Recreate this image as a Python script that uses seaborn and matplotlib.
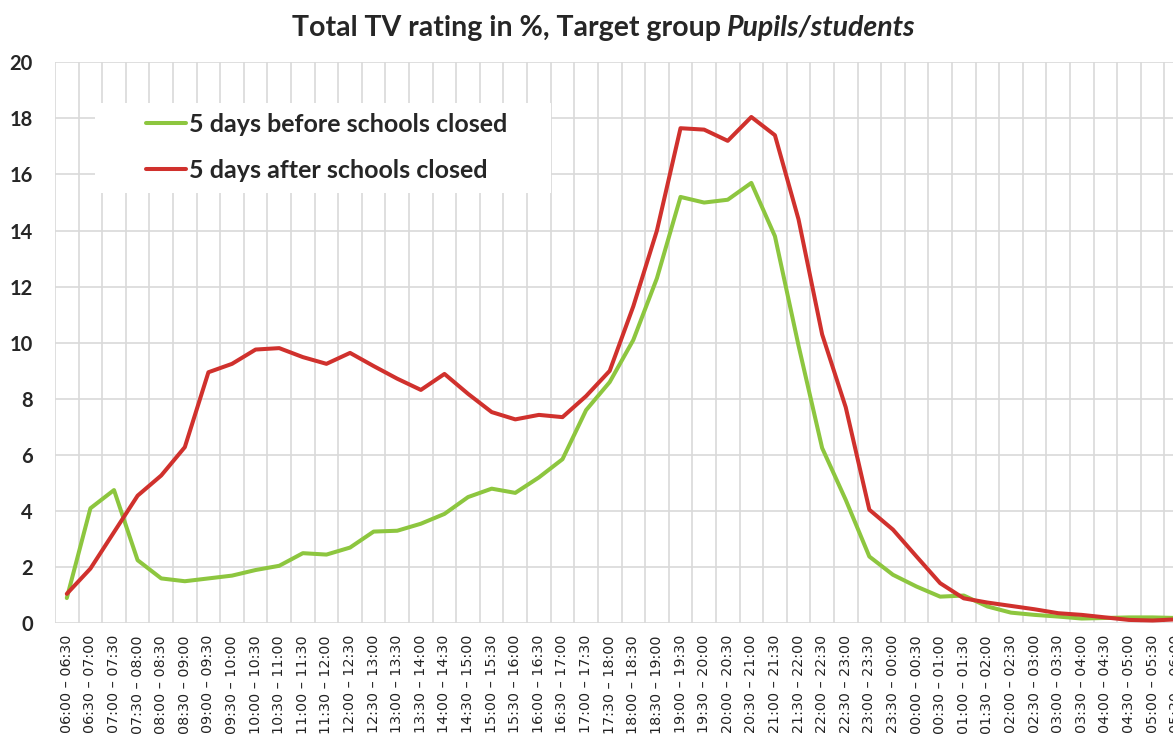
import pandas as pd
import matplotlib
matplotlib.use("Agg")
import matplotlib.pyplot as plt
from matplotlib.patches import Rectangle
import seaborn as sns

# half-hour slots from 06:00 to 06:00 next day
times = [f"{(6 + i // 2) % 24:02d}:{30 * (i % 2):02d}" for i in range(49)]
slots = [f"{times[i]} – {times[i + 1]}" for i in range(48)]

before = [0.9, 4.1, 4.75, 2.25, 1.6, 1.5, 1.6, 1.7, 1.9, 2.05,
          2.5, 2.45, 2.7, 3.27, 3.3, 3.55, 3.9, 4.5, 4.8, 4.65,
          5.2, 5.85, 7.6, 8.6, 10.1, 12.3, 15.2, 15.0, 15.1, 15.7,
          13.8, 9.9, 6.25, 4.4, 2.38, 1.73, 1.31, 0.95, 0.99, 0.6,
          0.38, 0.3, 0.24, 0.17, 0.19, 0.21, 0.21, 0.19]
after = [1.05, 1.95, 3.25, 4.55, 5.27, 6.28, 8.95, 9.25, 9.76, 9.81,
         9.49, 9.25, 9.64, 9.17, 8.72, 8.32, 8.89, 8.18, 7.53, 7.27,
         7.43, 7.35, 8.1, 9.0, 11.3, 14.0, 17.65, 17.6, 17.2, 18.05,
         17.4, 14.4, 10.3, 7.7, 4.05, 3.34, 2.38, 1.43, 0.89, 0.74,
         0.62, 0.5, 0.36, 0.3, 0.21, 0.12, 0.1, 0.14]
series_names = ["5 days before schools closed", "5 days after schools closed"]
colors = ["#8dc63f", "#d0312d"]
yticks = list(range(0, 21, 2))

df = pd.DataFrame({
    "slot": slots * 2,
    "rating": before + after,
    "series": [series_names[0]] * 48 + [series_names[1]] * 48,
})

sns.set_style("white")
plt.rcParams["font.family"] = ["Lato", "DejaVu Sans"]

W, H = 1173, 743
fig = plt.figure(figsize=(W / 100, H / 100), dpi=100)
# plot area runs past the right edge, as in the reference
left, right, top, bottom = 55, 1188, 62.3, 623.3
ax = fig.add_axes([left / W, 1 - bottom / H, (right - left) / W, (bottom - top) / H])

sns.lineplot(data=df, x="slot", y="rating", hue="series", palette=colors,
             linewidth=2.9, sort=False, ax=ax, legend=False)

ax.set_xlim(-0.5, 47.5)
ax.set_ylim(0, 20)
ax.set_yticks(yticks)
ax.set_xticks(range(48))
ax.set_xticks([i - 0.5 for i in range(49)], minor=True)
ax.set_xticklabels(slots, rotation=90, fontsize=10.3, family="DejaVu Sans", color="#222222")
ax.set_yticklabels([str(v) for v in yticks], fontsize=14.5, fontweight="bold")
ax.tick_params(axis="x", which="both", length=0, pad=8.5)
ax.tick_params(axis="y", length=0, pad=16)
ax.set_axisbelow(True)
ax.grid(False)
ax.xaxis.grid(True, which="minor", color="#d9d9d9", linewidth=1.2)
ax.yaxis.grid(True, which="major", color="#d9d9d9", linewidth=1.2)
ax.set_xlabel("")
ax.set_ylabel("")
for s in ax.spines.values():
    s.set_visible(False)

# white legend box over the grid
ax.add_patch(Rectangle(((95 - left) / (right - left), 1 - (193 - top) / (bottom - top)),
                       (551 - 95) / (right - left), (193 - 103) / (bottom - top),
                       transform=ax.transAxes, facecolor="white", edgecolor="none", zorder=1))
handles = [plt.Line2D([], [], color=c, linewidth=2.9) for c in colors]
ax.legend(handles, series_names, loc="upper left", frameon=False,
          bbox_to_anchor=((146 - left) / (right - left), 1 - (113 - top) / (bottom - top)),
          borderpad=0, borderaxespad=0, handlelength=1.6, handletextpad=0.12,
          labelspacing=0.9, prop={"family": "Lato", "weight": "bold", "size": 18})

# title: bold with italic target group
renderer = fig.canvas.get_renderer()
t1 = fig.text(0, 1 - 28 / H, "Total TV rating in %, Target group", fontsize=20.5,
              fontweight="bold", va="center", ha="left")
t2 = fig.text(0, 1 - 28 / H, "Pupils/students", fontsize=20.5, fontweight="bold",
              fontstyle="italic", va="center", ha="left")
w1 = t1.get_window_extent(renderer).width
w2 = t2.get_window_extent(renderer).width
gap = 6
x0 = 604 - (w1 + gap + w2) / 2
t1.set_x(x0 / W)
t2.set_x((x0 + w1 + gap) / W)

fig.savefig("out.png", dpi=100)
